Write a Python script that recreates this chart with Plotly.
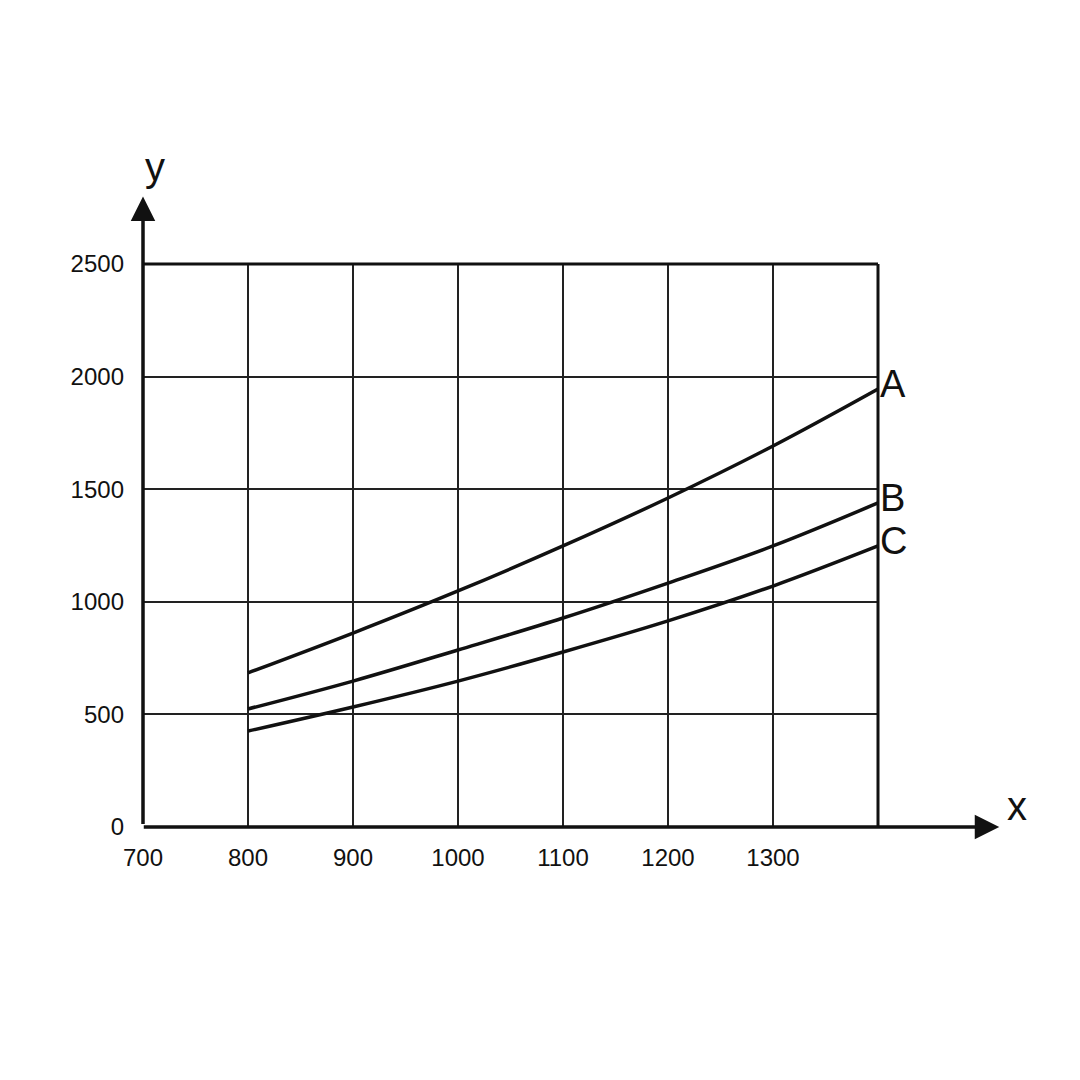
import plotly.graph_objects as go

x_vals = [800, 900, 1000, 1100, 1200, 1300, 1400]
series_a = [684, 861, 1048, 1248, 1461, 1692, 1945]
series_b = [524, 648, 786, 928, 1083, 1248, 1439]
series_c = [426, 533, 648, 777, 915, 1070, 1248]
x_ticks = [700, 800, 900, 1000, 1100, 1200, 1300]
y_ticks = [0, 500, 1000, 1500, 2000, 2500]
labels = ["A", "B", "C"]

fig = go.Figure()
for s in (series_a, series_b, series_c):
    fig.add_trace(go.Scatter(x=x_vals, y=s, mode="lines", line=dict(color="#111", width=3.5, shape="spline"), showlegend=False))

for lab, s in zip(labels, (series_a, series_b, series_c)):
    fig.add_annotation(x=x_vals[-1], y=s[-1] + 20, text=lab, showarrow=False, xanchor="left", xshift=0,
                       font=dict(size=38, color="#111", family="Liberation Sans"))

fig.update_xaxes(range=[700, 1400], tickvals=x_ticks, showgrid=True, gridcolor="#222", gridwidth=1.5,
                 zeroline=False, showline=False, ticks="", ticklabelstandoff=14,
                 tickfont=dict(size=24, color="#111", family="Liberation Sans"))
fig.update_yaxes(range=[0, 2500], tickvals=y_ticks, showgrid=True, gridcolor="#222", gridwidth=1.5,
                 zeroline=False, showline=False, ticks="", ticklabelstandoff=18,
                 tickfont=dict(size=24, color="#111", family="Liberation Sans"))

fig.add_shape(type="line", xref="paper", yref="paper", x0=0, x1=1, y0=1, y1=1, line=dict(color="#111", width=3))
fig.add_shape(type="line", xref="paper", yref="paper", x0=1, x1=1, y0=0, y1=1, line=dict(color="#111", width=3))
fig.add_annotation(xref="paper", yref="paper", axref="pixel", ayref="pixel", x=0, y=1.12, ax=0, ay=629,
                   showarrow=True, arrowhead=2, arrowsize=1.4, arrowwidth=3.5, arrowcolor="#111", text="")
fig.add_annotation(xref="paper", yref="paper", x=1.165, y=0, ax=-857, ay=0,
                   showarrow=True, arrowhead=2, arrowsize=1.4, arrowwidth=3.5, arrowcolor="#111", text="")
fig.add_annotation(xref="paper", yref="paper", x=0, y=1.215, text="y", showarrow=False,
                   font=dict(size=40, color="#111", family="Liberation Sans"))
fig.add_annotation(xref="paper", yref="paper", x=1.205, y=-0.005, text="x", showarrow=False,
                   font=dict(size=40, color="#111", family="Liberation Sans"))

fig.update_layout(width=1080, height=1080, margin=dict(l=135, r=210, t=256, b=261),
                  plot_bgcolor="white", paper_bgcolor="white")
fig.write_html("out.html")
